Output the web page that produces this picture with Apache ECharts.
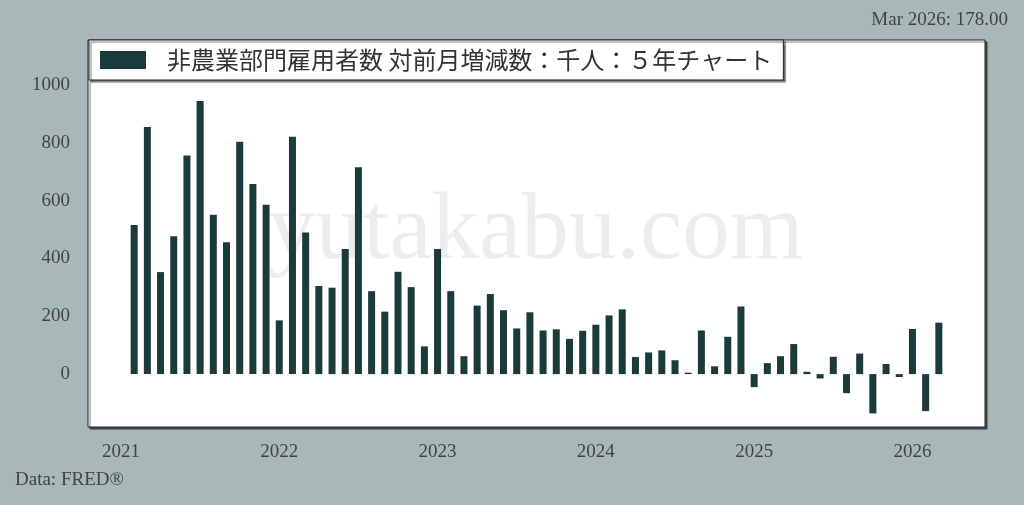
<!DOCTYPE html>
<html>
<head>
<meta charset="utf-8">
<script src="https://cdn.jsdelivr.net/npm/echarts@6/dist/echarts.min.js"></script>
<style>
  html, body { margin: 0; padding: 0; background: #a8b8b8; }
  #chart { width: 1024px; height: 505px; }
</style>
</head>
<body>
<div id="chart"></div>
<script>
// 月次データ 2021-02 〜 2026-03（千人）
var startMonth = '2021-02'
var payrollChange = [
  516, 855, 353, 477, 756, 945, 551, 456, 804, 658, 586,
  186, 821, 490, 305, 299, 433, 716, 287, 216, 354, 301, 96,
  433, 287, 62, 237, 277, 221, 158, 214, 151, 155, 122, 150,
  171, 203, 224, 59, 75, 82, 48, 5, 151, 27, 129, 234,
  -45, 38, 62, 104, 8, -15, 60, -66, 71, -136, 35, -10, 156,
  -128, 178
]
// 軸の端に空ける月数
var padBefore = 3
var padAfter = 3
var yLabels = [0, 200, 400, 600, 800, 1000]

var legendName = '非農業部門雇用者数 対前月増減数：千人：５年チャート'
var latestText = 'Mar 2026: 178.00'

// カテゴリ（YYYY-MM）を作る
var months = []
var values = []
var y0 = +startMonth.slice(0, 4)
var m0 = +startMonth.slice(5, 7) - 1 - padBefore
var total = padBefore + payrollChange.length + padAfter
for (var i = 0; i < total; i++) {
  var d = new Date(y0, m0 + i, 1)
  var mm = d.getMonth() + 1
  months.push(d.getFullYear() + '-' + (mm < 10 ? '0' + mm : mm))
  var k = i - padBefore
  values.push(k >= 0 && k < payrollChange.length ? payrollChange[k] : null)
}

var serif = '"Liberation Serif", "DejaVu Serif", serif'
var myChart = echarts.init(document.getElementById('chart'))
var option = {
  backgroundColor: '#a8b8b8',
  animation: false,
  grid: {
    left: 88,
    right: 39,
    top: 40,
    bottom: 78,
    show: true,
    backgroundColor: '#fff',
    borderColor: '#222',
    borderWidth: 1,
    shadowColor: 'rgba(0,0,0,0.55)',
    shadowBlur: 1,
    shadowOffsetX: 2,
    shadowOffsetY: 2
  },
  legend: {
    left: 89,
    top: 40,
    data: [legendName],
    icon: 'rect',
    backgroundColor: '#fff',
    borderColor: '#222',
    borderWidth: 1,
    borderRadius: 0,
    shadowColor: 'rgba(0,0,0,0.55)',
    shadowBlur: 1,
    shadowOffsetX: 2,
    shadowOffsetY: 2,
    padding: [8, 11, 8, 11],
    itemWidth: 46,
    itemHeight: 18,
    selectedMode: false,
    textStyle: {
      fontFamily: '"Noto Sans CJK JP", sans-serif',
      fontSize: 24,
      color: '#333',
      padding: [0, 0, 0, 16]
    }
  },
  xAxis: {
    type: 'category',
    data: months,
    axisLine: { show: false },
    axisTick: { show: false },
    splitLine: { show: false },
    axisLabel: {
      margin: 16,
      fontFamily: serif,
      fontSize: 19,
      color: '#444',
      interval: function (idx, val) { return val.slice(5) === '01' },
      formatter: function (val) { return val.slice(0, 4) }
    }
  },
  yAxis: {
    type: 'value',
    min: -183,
    max: 1156,
    axisLine: { show: false },
    axisTick: { show: false },
    splitLine: { show: false },
    axisLabel: {
      margin: 18,
      fontFamily: serif,
      fontSize: 19,
      color: '#444',
      customValues: yLabels,
      formatter: function (v) { return String(v) }
    }
  },
  graphic: [
    {
      type: 'text',
      left: 268,
      top: 186,
      silent: true,
      z: 1,
      style: {
        text: 'yutakabu.com',
        fontFamily: serif,
        fontSize: 95,
        fill: 'rgba(0,0,0,0.07)'
      }
    },
    {
      type: 'text',
      right: 16,
      top: 11,
      style: { text: latestText, fontFamily: serif, fontSize: 19, fill: '#444' }
    },
    {
      type: 'text',
      left: 15,
      top: 471,
      style: { text: 'Data: FRED®', fontFamily: serif, fontSize: 19, fill: '#444' }
    }
  ],
  series: [
    {
      name: legendName,
      type: 'bar',
      barWidth: 7,
      itemStyle: { color: '#1b3b3b' },
      data: values
    }
  ]
}
myChart.setOption(option)
</script>
</body>
</html>
